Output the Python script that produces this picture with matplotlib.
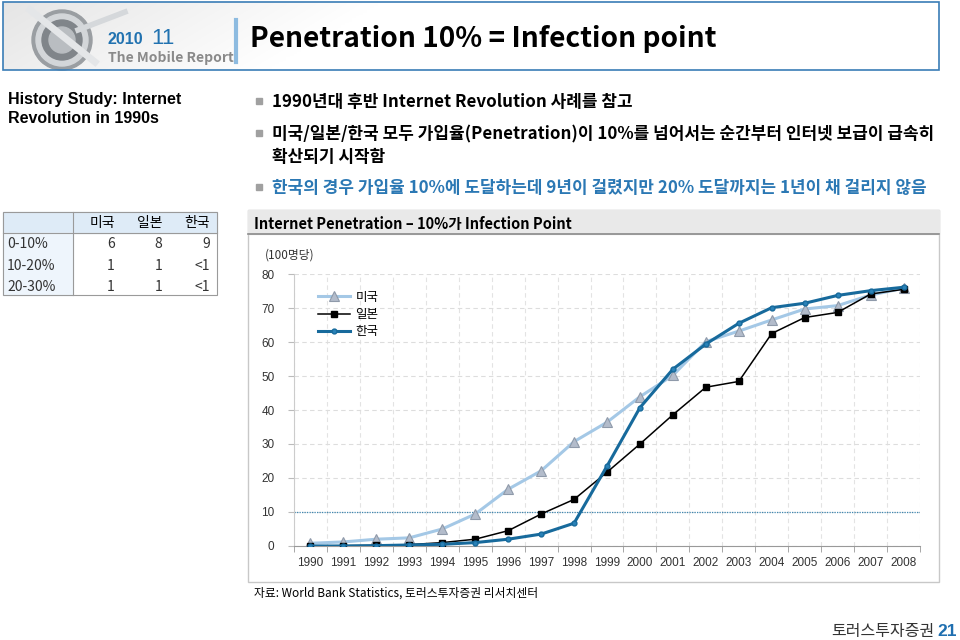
import numpy as np
import matplotlib
matplotlib.use("Agg")
import matplotlib.pyplot as plt
from matplotlib.patches import Rectangle, Circle

plt.rcParams['font.family'] = ['Noto Sans CJK KR', 'DejaVu Sans']

# --- data ---
years = [str(y) for y in range(1990, 2009)]
us = [0.8, 1.2, 2.0, 2.4, 5.0, 9.4, 16.7, 22.1, 30.7, 36.4, 43.9,
      50.2, 60.1, 63.2, 66.5, 69.7, 70.7, 73.8, 75.8]
japan = [0.0, 0.1, 0.2, 0.4, 1.0, 2.0, 4.5, 9.4, 13.7, 21.7, 30.0,
         38.6, 46.7, 48.4, 62.5, 67.2, 68.7, 74.1, 75.5]
korea = [0.0, 0.0, 0.1, 0.3, 0.5, 1.0, 2.0, 3.5, 6.7, 23.5, 40.7,
         52.0, 59.4, 65.5, 70.1, 71.4, 73.7, 75.1, 76.1]
series_names = ['미국', '일본', '한국']

table_cols = ['미국', '일본', '한국']
table_rows = ['0-10%', '10-20%', '20-30%']
table_vals = [['6', '8', '9'], ['1', '1', '<1'], ['1', '1', '<1']]

bullets = [
    "1990년대 후반 Internet Revolution 사례를 참고",
    "미국/일본/한국 모두 가입율(Penetration)이 10%를 넘어서는 순간부터 인터넷 보급이 급속히\n확산되기 시작함",
    "한국의 경우 가입율 10%에 도달하는데 9년이 걸렸지만 20% 도달까지는 1년이 채 걸리지 않음",
]

W, H = 960, 640
fig = plt.figure(figsize=(W / 100, H / 100), dpi=100)

# overlay in pixel coordinates
bg = fig.add_axes([0, 0, 1, 1])
bg.set_xlim(0, W)
bg.set_ylim(H, 0)
bg.axis('off')

BLUE = '#2b78b4'

# header band
gx = np.linspace(0, 1, 256)[None, :]
gy = np.linspace(0, 1, 40)[:, None]
g = 0.9 + 0.1 * np.clip(gx * 2.5 + gy * 0.3, 0, 1)
bg.imshow(np.dstack([g, g, g]), extent=[3, 939, 70, 2],
          aspect='auto', zorder=0, interpolation='bilinear')
bg.add_patch(Rectangle((3, 2), 936, 68, fill=False, ec='#3a7db6', lw=1.2, zorder=2))

# globe logo (simplified)
for r, c in [(30, '#9a9ea2'), (26, '#d3d6d9'), (20, '#80858a'), (13, '#b9bdc1')]:
    bg.add_patch(Circle((62, 40), r, color=c, zorder=1))
bg.plot([30, 95], [10, 62], color='#e4e6e8', lw=5, zorder=1)
bg.plot([78, 125], [30, 12], color='#d5d8db', lw=4, zorder=1)

bg.text(108, 44, '2010', color='#2172b0', fontsize=11.5, fontweight='bold',
        family=['Liberation Sans'], va='baseline')
bg.text(151, 44, '11', color='#2172b0', fontsize=16,
        family=['Liberation Sans'], va='baseline')
bg.text(108, 62, 'The Mobile Report', color='#8a8a8a', fontsize=10,
        fontweight='bold', va='baseline')
bg.plot([236, 236], [20, 62], color='#8dbbe0', lw=3, zorder=3)
bg.text(250, 47, 'Penetration 10% = Infection point', fontsize=20.2,
        fontweight='bold', va='baseline', color='black')

# left caption
bg.text(8, 104, 'History Study: Internet', fontsize=11.5,
        fontweight='bold', family=['Liberation Sans'], va='baseline')
bg.text(8, 123, 'Revolution in 1990s', fontsize=11.5,
        fontweight='bold', family=['Liberation Sans'], va='baseline')

# bullets
bullet_y = [107, 139, 193]
for i, (txt, by) in enumerate(zip(bullets, bullet_y)):
    col = BLUE if i == 2 else 'black'
    bg.add_patch(Rectangle((256, by - 9), 6, 6, color='#a0a0a0'))
    lines = txt.split('\n')
    for j, ln in enumerate(lines):
        bg.text(272, by + j * 23, ln, fontsize=12.2, color=col, va='baseline',
                fontweight='bold')

# table
tx0, tx1 = 3, 217
col_x = [115, 162, 210]
bg.add_patch(Rectangle((tx0, 212), tx1 - tx0, 21, color='#deebf7', zorder=1))
bg.add_patch(Rectangle((tx0, 233), 70, 62, color='#eef5fc', zorder=1))
bg.add_patch(Rectangle((tx0, 212), tx1 - tx0, 83, fill=False, ec='#9a9a9a', lw=0.8, zorder=2))
bg.plot([tx0, tx1], [233, 233], color='#9a9a9a', lw=0.8)
bg.plot([73, 73], [212, 295], color='#9a9a9a', lw=0.8)
for c, x in zip(table_cols, col_x):
    bg.text(x, 227, c, fontsize=10, ha='right', va='baseline')
for r, (name, vals) in enumerate(zip(table_rows, table_vals)):
    yy = 248 + r * 21.5
    bg.text(7, yy, name, fontsize=10, va='baseline', color='#333333')
    for v, x in zip(vals, col_x):
        bg.text(x, yy, v, fontsize=10, ha='right', va='baseline', color='#333333')

# chart frame
bg.add_patch(Rectangle((248, 210), 691, 372, fill=False, ec='#c8c8c8', lw=1, zorder=1))
bg.add_patch(Rectangle((248, 210), 691, 24, color='#e9e9e9', zorder=1))
bg.plot([248, 939], [234, 234], color='#8a8a8a', lw=1.2, zorder=2)
bg.text(254, 229, 'Internet Penetration – 10%가 Infection Point', fontsize=10.5,
        fontweight='bold', va='baseline')
bg.text(265, 259, '(100명당)', fontsize=8.5, va='baseline', color='#333333')

# footer
bg.text(254, 597, '자료: World Bank Statistics, 토러스투자증권 리서치센터', fontsize=8.5,
        va='baseline')
bg.text(934, 636, '토러스투자증권', fontsize=11.5, va='baseline', ha='right',
        color='#333333')
bg.text(957, 636, '21', fontsize=12.5, va='baseline', ha='right', color='#1f6fb0',
        fontweight='bold', family=['Liberation Sans'])

# main chart
ax = fig.add_axes([294 / W, 1 - 546 / H, (920 - 294) / W, (546 - 274) / H])
ax.patch.set_alpha(0)
x = np.arange(len(years))
ax.plot(x, us, color='#a4c8e6', lw=2.2, marker='^', ms=6.5,
        mfc='#b3bccb', mec='#8f9aaa', mew=0.8, label=series_names[0], zorder=3)
ax.plot(x, japan, color='black', lw=1.1, marker='s', ms=4,
        mfc='black', mec='black', label=series_names[1], zorder=4)
ax.plot(x, korea, color='#176a9c', lw=2.2, marker='o', ms=3.5,
        mfc='#2a82b8', mec='#176a9c', label=series_names[2], zorder=5)
ax.axhline(10, color='#3f88b2', lw=0.9, ls=(0, (1, 1)), zorder=2)

ax.set_xlim(-0.5, len(years) - 0.5)
ax.set_ylim(0, 80)
ax.set_yticks(range(0, 81, 10))
ax.set_xticks(x)
ax.set_xticklabels(years)
ax.set_xticks(np.arange(-0.5, len(years), 1), minor=True)
ax.tick_params(axis='x', which='major', length=0, pad=8, labelsize=8.5)
ax.tick_params(axis='x', which='minor', length=4, color='#999999')
ax.tick_params(axis='y', length=4, color='#bbbbbb', labelsize=8.5, pad=10)
for t in ax.get_xticklabels() + ax.get_yticklabels():
    t.set_color('#333333')
    t.set_family(['Liberation Sans Narrow', 'Liberation Sans'])
ax.grid(True, axis='y', ls=(0, (4, 3)), color='#dddddd', lw=0.8)
ax.grid(True, axis='x', which='minor', ls=(0, (4, 3)), color='#e3e3e3', lw=0.8)
for s in ['top', 'right']:
    ax.spines[s].set_visible(False)
ax.spines['left'].set_color('#cccccc')
ax.spines['bottom'].set_color('#999999')

leg = ax.legend(loc='upper left', bbox_to_anchor=(0.02, 0.98), frameon=False,
                fontsize=9, handlelength=2.6, labelspacing=0.35, handletextpad=0.4)

fig.savefig('out.png', dpi=100)
